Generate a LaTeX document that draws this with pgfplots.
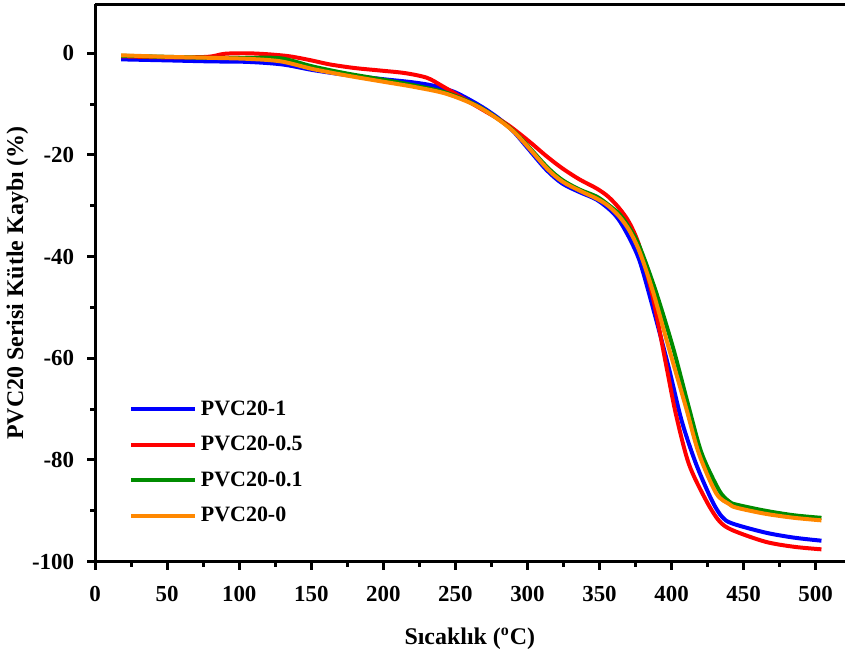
\documentclass[border=0pt]{standalone}
\usepackage{fontspec}
\setmainfont{Liberation Serif}
\usepackage{pgfplots}
\pgfplotsset{compat=1.18}

\definecolor{cblue}{RGB}{0,0,255}
\definecolor{cred}{RGB}{255,0,0}
\definecolor{cgreen}{RGB}{0,140,0}
\definecolor{corange}{RGB}{255,136,0}

\begin{document}
\begin{tikzpicture}
\begin{axis}[
    name=main,
    scale only axis,
    width=376pt, height=279.5pt,
    xmin=0, xmax=520,
    ymin=-100, ymax=9.6,
    axis x line=bottom, axis y line=left,
    axis line style={line width=1.5pt, -},
    xtick={0,50,...,500},
    minor xtick={25,75,...,500},
    ytick={-100,-80,...,0},
    minor ytick={-90,-70,...,0},
    tick align=outside,
    major tick length=4pt,
    minor tick length=2.5pt,
    every tick/.style={black, line width=1.5pt},
    /pgf/number format/assume math mode=true,
    tick label style={font=\bfseries\fontsize{11.5}{13}\selectfont},
    xticklabel style={yshift=-5pt},
    yticklabel style={xshift=-3pt},
    xlabel={Sıcaklık (\textsuperscript{o}C)},
    ylabel={PVC20 Serisi Kütle Kaybı (\%)},
    label style={font=\bfseries\fontsize{12}{14}\selectfont},
    xlabel style={yshift=-6pt},
    ylabel style={yshift=-5pt},
    legend style={at={(0.045,0.297)}, anchor=north west, draw=none, fill=none,
        inner sep=0pt, row sep=5pt,
        font=\bfseries\fontsize{11}{13}\selectfont},
    legend cell align=left,
    legend image code/.code={\draw[#1, line width=2pt] (0pt,0pt) -- (32pt,0pt);},
    clip=false,
    every axis plot/.append style={line width=2pt, smooth, tension=0.5},
]
% PVC20-1
\addplot[cblue] coordinates {
(18,-1.2)(50,-1.4)(80,-1.6)(106,-1.7)(130,-2.2)(151,-3.3)(175,-4.3)(200,-5.1)
(220,-5.7)(235,-6.4)(250,-7.7)(267,-10.3)(280,-12.8)(290,-15.3)(300,-18.6)
(313,-22.9)(324,-25.6)(336,-27.3)(348,-28.8)(358,-31)(364,-33)(371,-36.5)
(378,-41)(387,-50)(398,-61.8)(407,-72.3)(417,-80.8)(428,-88)(435,-91.2)
(442,-92.5)(465,-94.3)(485,-95.3)(504,-95.9)
};
\addlegendentry{PVC20-1}
% PVC20-0.5
\addplot[cred] coordinates {
(18,-0.6)(50,-0.8)(78,-0.7)(90,-0.1)(105,0)(120,-0.2)(135,-0.6)(150,-1.4)
(163,-2.2)(180,-2.9)(198,-3.4)(215,-3.9)(230,-4.8)(240,-6.3)(255,-8.8)
(270,-11.3)(286,-14)(301,-17.3)(313,-20.2)(324,-22.6)(336,-24.8)(348,-26.6)
(356,-28.2)(364,-30.6)(371,-33.5)(378,-38.2)(387,-48)(396,-61)(403,-71)
(412,-80.8)(424,-88)(433,-92)(442,-93.8)(465,-96.1)(485,-97.1)(504,-97.6)
};
\addlegendentry{PVC20-0.5}
% PVC20-0.1
\addplot[cgreen] coordinates {
(18,-0.5)(50,-0.7)(80,-0.9)(106,-0.9)(129,-1.0)(151,-2.6)(175,-4.0)(200,-5.2)
(221,-6.3)(244,-7.8)(267,-10.6)(290,-15.2)(313,-22.2)(324,-24.9)(336,-26.8)
(348,-28.2)(356,-29.8)(364,-31.7)(371,-34.5)(378,-38.2)(389,-46.8)(401,-57.9)
(412,-69.7)(421,-78.8)(433,-86)(440,-88.2)(445,-88.8)(465,-90)(485,-90.9)(504,-91.4)
};
\addlegendentry{PVC20-0.1}
% PVC20-0
\addplot[corange] coordinates {
(18,-0.4)(50,-0.7)(80,-0.9)(106,-1.1)(129,-1.6)(151,-3.1)(175,-4.4)(200,-5.6)
(221,-6.6)(244,-8.0)(267,-10.7)(290,-15.3)(313,-22.5)(324,-25.2)(336,-27)
(348,-28.6)(356,-30)(364,-32.2)(371,-35)(378,-39.2)(387,-46.8)(398,-57.9)
(410,-69.7)(419,-78.8)(431,-86.6)(440,-88.7)(445,-89.4)(465,-90.6)(485,-91.4)(504,-91.9)
};
\addlegendentry{PVC20-0}
\end{axis}
% top frame line (right side is cut off in the reference)
\draw[black, line width=1.5pt] (main.north west) -- (main.north east);
% fix the page to the reference's frame
\path (main.south west) ++(-47pt,-45pt);
\path (main.north east) ++(0pt,2.25pt);
\end{tikzpicture}
\end{document}
